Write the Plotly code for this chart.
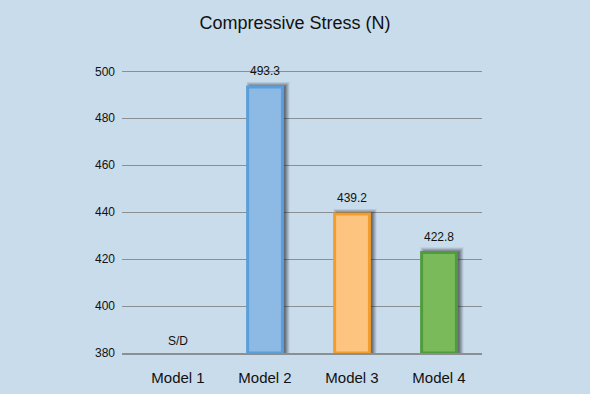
import plotly.graph_objects as go

categories = ["Model 1", "Model 2", "Model 3", "Model 4"]
values = [None, 493.3, 439.2, 422.8]
value_labels = ["S/D", "493.3", "439.2", "422.8"]
fill_colors = ["#8db9e5", "#8db9e5", "#fdc47f", "#7bba5b"]
line_colors = ["#5a9fd9", "#5a9fd9", "#f29d2c", "#4f9c3c"]
y_ticks = [380, 400, 420, 440, 460, 480, 500]
base_value = 380

bar_w = 0.40
px_x = 1 / 87.0     # category units per pixel
px_y = 1 / 2.35     # value units per pixel
fig = go.Figure()

# soft blurred shadow: several layers of growing size
for k, alpha in [(4, 0.10), (3, 0.12), (2, 0.15), (1, 0.18), (0, 0.22)]:
    w = bar_w + 2 * k * px_x
    fig.add_trace(go.Bar(
        x=categories,
        y=[None if v is None else (v - base_value) + (6 + 2 * k) * px_y for v in values],
        base=base_value - (5 + k) * px_y, width=w, offset=-w / 2 + 3 * px_x,
        marker=dict(color=f"rgba(25,25,35,{alpha})", line=dict(width=0)),
        hoverinfo="skip", showlegend=False,
    ))
fig.add_trace(go.Bar(
    x=categories, y=[None if v is None else v - base_value for v in values],
    base=base_value, width=bar_w, offset=-bar_w / 2,
    marker=dict(color=fill_colors, line=dict(color=line_colors, width=3)),
    showlegend=False,
))

annotations = []
for c, v, t in zip(categories, values, value_labels):
    annotations.append(dict(
        x=c, y=v if v is not None else base_value, text=t, showarrow=False,
        yanchor="bottom", yshift=7 if v is not None else 3,
        font=dict(family="Arial, Liberation Sans", size=12, color="#111"),
    ))

fig.update_layout(
    width=590, height=394,
    paper_bgcolor="#c9dceb", plot_bgcolor="#c9dceb",
    margin=dict(l=122, r=108, t=69, b=41),
    barmode="overlay",
    annotations=annotations,
    title=dict(text="Compressive Stress (N)", x=0.5, xanchor="center", y=0.942, yanchor="middle",
               font=dict(family="Arial, Liberation Sans", size=18, color="#111")),
    font=dict(family="Arial, Liberation Sans", color="#111"),
)
fig.update_xaxes(
    type="category", showgrid=False, showline=True, linecolor="#8a8f94", linewidth=2,
    ticks="", tickfont=dict(size=15), range=[-0.644, 3.494], ticklabelstandoff=10,
    automargin=False,
)
fig.update_yaxes(
    range=[base_value, 501], tickvals=y_ticks, showgrid=True, gridcolor="#8a8f94", gridwidth=1,
    zeroline=False, showline=False, ticks="", tickfont=dict(size=12), ticklabelstandoff=6,
    automargin=False,
)
fig.write_html("out.html", post_script="document.body.style.margin='0';",
               config={"displayModeBar": False})
